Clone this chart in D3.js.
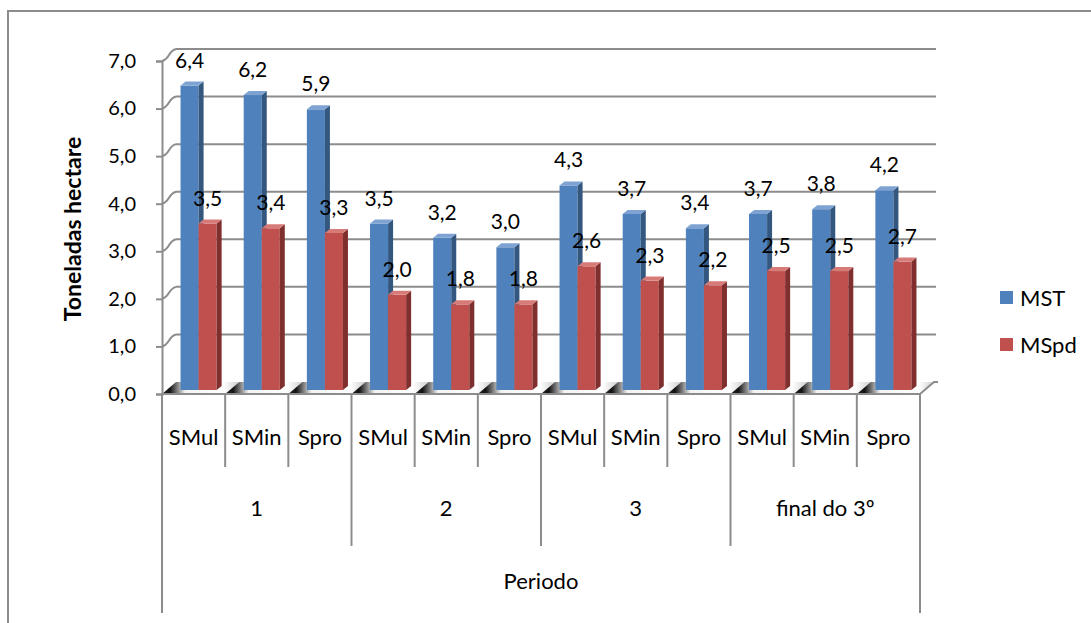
<!DOCTYPE html>
<html>
<head>
<meta charset="utf-8">
<script src="https://cdn.jsdelivr.net/npm/d3@7"></script>
<style>
  html, body { margin: 0; padding: 0; background: #fff; }
  svg { display: block; font-family: Lato, "Open Sans", sans-serif; }
</style>
</head>
<body>
<svg id="chart" width="1091" height="623"></svg>
<script>
// Forage dry matter per hectare by period and system
const periods = ["1", "2", "3", "final do 3º"];
const systems = ["SMul", "SMin", "Spro"];
const seriesNames = ["MST", "MSpd"];
const mstValues  = [6.4, 6.2, 5.9, 3.5, 3.2, 3.0, 4.3, 3.7, 3.4, 3.7, 3.8, 4.2];
const mspdValues = [3.5, 3.4, 3.3, 2.0, 1.8, 1.8, 2.6, 2.3, 2.2, 2.5, 2.5, 2.7];
const yTicks = [0, 1, 2, 3, 4, 5, 6, 7];

const categories = [];
periods.forEach(p => systems.forEach(s => categories.push({ period: p, system: s })));
const seriesValues = { MST: mstValues, MSpd: mspdValues };

const svg = d3.select("#chart");
const W = 1091, H = 623;

const ptLocale = d3.formatLocale({ decimal: ",", thousands: ".", grouping: [3], currency: ["", " €"] });
const fmt = ptLocale.format(".1f");

// plot geometry
const left = 162, right = 920;
const wallDX = 14, wallDY = -12;   // depth of the 3D box
const barDX = 5, barDY = -4;       // depth of each bar
const gridColor = "#8c8c8c";

const x = d3.scaleBand().domain(d3.range(categories.length)).range([left, right]);
const sub = d3.scaleBand().domain(seriesNames).range([0, x.bandwidth()]).paddingInner(0).paddingOuter(0.75);
const y = d3.scaleLinear().domain([0, 7]).range([394, 61]);

const colors = {
  MST:  { front: "#4f81bd", top: "#7ea3d3", side: "#33577f" },
  MSpd: { front: "#c0504d", top: "#d77b78", side: "#7f302e" }
};

// outer frame
svg.append("rect")
  .attr("x", 8).attr("y", 11).attr("width", W + 20).attr("height", H + 20)
  .attr("fill", "none").attr("stroke", gridColor).attr("stroke-width", 2);

const defs = svg.append("defs");
const floorGrad = defs.append("linearGradient")
  .attr("id", "floorShade").attr("x1", "0").attr("x2", "1").attr("y1", "0").attr("y2", "0");
[[0, "#2a2a2a"], [0.1, "#111"], [0.3, "#f2f2f2"], [0.8, "#ffffff"], [1, "#cfcfcf"]]
  .forEach(([o, c]) => floorGrad.append("stop").attr("offset", o).attr("stop-color", c));

// floor slab: one shaded strip per category
const floorG = svg.append("g");
categories.forEach((c, i) => {
  const x0 = x(i), x1 = x(i) + x.bandwidth();
  const y0 = y(0);
  floorG.append("path")
    .attr("d", `M${x0},${y0} L${x1},${y0} L${x1 + wallDX},${y0 + wallDY} L${x0 + wallDX},${y0 + wallDY} Z`)
    .attr("fill", "url(#floorShade)");
});
// floor right edge
svg.append("path")
  .attr("d", `M${right},${y(0)} L${right + wallDX},${y(0) + wallDY} L${right + wallDX + 4},${y(0) + wallDY}`)
  .attr("fill", "none").attr("stroke", gridColor).attr("stroke-width", 2);

// back wall gridlines and side wall diagonals
const grid = svg.append("g").attr("stroke", gridColor).attr("stroke-width", 2).attr("fill", "none");
yTicks.filter(v => v > 0).forEach(v => {
  grid.append("line")
    .attr("x1", left + wallDX).attr("x2", right + wallDX + 2)
    .attr("y1", y(v) + wallDY).attr("y2", y(v) + wallDY);
  grid.append("path")
    .attr("d", `M${left},${y(v)} Q${left + 4},${y(v) - 1} ${left + wallDX / 2},${y(v) + wallDY / 2} T${left + wallDX},${y(v) + wallDY}`);
});

// front value axis
const yAxis = d3.axisLeft(y).tickValues(yTicks).tickFormat(fmt).tickSize(6).tickPadding(20);
const yAxisG = svg.append("g").attr("transform", `translate(${left},0)`).call(yAxis);
yAxisG.select(".domain").attr("stroke", gridColor).attr("stroke-width", 2);
yAxisG.selectAll(".tick line").attr("stroke", gridColor).attr("stroke-width", 2);
yAxisG.selectAll(".tick text").attr("font-size", 20).attr("fill", "#000")
  .attr("font-family", "Lato, sans-serif");

// bars
const barsG = svg.append("g");
categories.forEach((c, i) => {
  seriesNames.forEach(s => {
    const v = seriesValues[s][i];
    const bx = x(i) + sub(s) + barDX;
    const bw = sub.bandwidth();
    const yt = y(v) + barDY, yb = y(0) + barDY;
    const col = colors[s];
    const g = barsG.append("g");
    g.append("rect").attr("x", bx).attr("y", yt).attr("width", bw).attr("height", yb - yt).attr("fill", col.front);
    g.append("path")
      .attr("d", `M${bx + bw},${yt} L${bx + bw + barDX},${yt + barDY} L${bx + bw + barDX},${yb + barDY} L${bx + bw},${yb} Z`)
      .attr("fill", col.side);
    g.append("path")
      .attr("d", `M${bx},${yt} L${bx + bw},${yt} L${bx + bw + barDX},${yt + barDY} L${bx + barDX},${yt + barDY} Z`)
      .attr("fill", col.top);
  });
});

// front floor edge
svg.append("line").attr("x1", left).attr("x2", right).attr("y1", y(0)).attr("y2", y(0))
  .attr("stroke", gridColor).attr("stroke-width", 2);

// data labels
const labelsG = svg.append("g").attr("font-size", 21).attr("text-anchor", "middle").attr("fill", "#000");
categories.forEach((c, i) => {
  seriesNames.forEach(s => {
    const v = seriesValues[s][i];
    labelsG.append("text")
      .attr("x", x(i) + sub(s) + barDX + sub.bandwidth() / 2)
      .attr("y", y(v) + barDY - 18)
      .text(fmt(v));
  });
});

// category axis: dividers and two label rows
const catG = svg.append("g").attr("stroke", gridColor).attr("stroke-width", 2);
for (let i = 0; i <= categories.length; i++) {
  const xv = i === categories.length ? right : x(i);
  let bottom;
  if (i === 0 || i === categories.length) bottom = 613;
  else if (i % systems.length === 0) bottom = 546;
  else bottom = 467;
  catG.append("line").attr("x1", xv).attr("x2", xv).attr("y1", y(0)).attr("y2", bottom);
}
const textG = svg.append("g").attr("text-anchor", "middle").attr("fill", "#000").attr("font-size", 22);
categories.forEach((c, i) => {
  textG.append("text").attr("x", x(i) + x.bandwidth() / 2).attr("y", 445).text(c.system);
});
periods.forEach((p, k) => {
  const x0 = x(k * systems.length), x1 = x(k * systems.length + systems.length - 1) + x.bandwidth();
  textG.append("text").attr("x", (x0 + x1) / 2).attr("y", 516).text(p);
});
textG.append("text").attr("x", (left + right) / 2).attr("y", 589).text("Periodo");

// value axis title
svg.append("text")
  .attr("transform", "translate(81,229) rotate(-90)")
  .attr("text-anchor", "middle").attr("font-size", 23).attr("font-weight", "bold")
  .attr("fill", "#000").text("Toneladas hectare");

// legend
const legend = svg.append("g").attr("transform", "translate(1000,291)");
seriesNames.forEach((s, k) => {
  const g = legend.append("g").attr("transform", `translate(0,${k * 47})`);
  g.append("rect").attr("width", 13).attr("height", 13).attr("fill", colors[s].front);
  g.append("text").attr("x", 20).attr("y", 15).attr("font-size", 22).attr("fill", "#000").text(s);
});
</script>
</body>
</html>
